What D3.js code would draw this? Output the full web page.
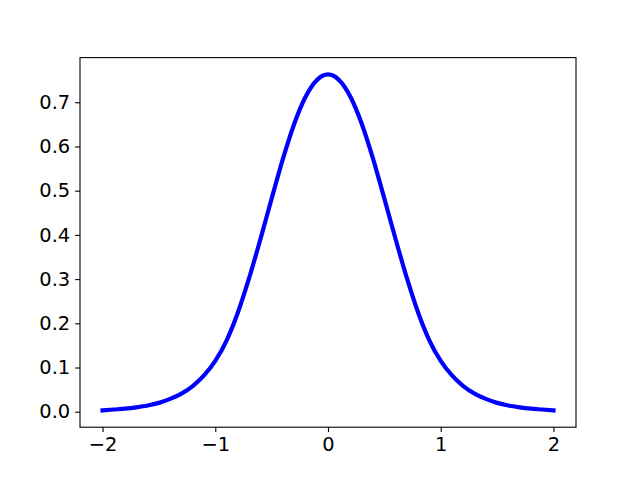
<!DOCTYPE html>
<html>
<head>
    <meta charset="utf-8">
    <title>Bell curve</title>
    <script src="https://cdnjs.cloudflare.com/ajax/libs/d3/7.8.5/d3.min.js"></script>
    <style>
        body { margin: 0; background: #fff; }
        .domain { display: none; }
        .tick line { stroke: #000; stroke-width: 1.1px; }
    </style>
</head>

<body>

<script type="text/javascript">
    // values
    var xValues = [-2.0, -1.9, -1.8, -1.7, -1.6, -1.5, -1.4, -1.3, -1.2, -1.1, -1.0,
                   -0.9, -0.8, -0.7, -0.6, -0.5, -0.4, -0.3, -0.2, -0.1, 0.0,
                   0.1, 0.2, 0.3, 0.4, 0.5, 0.6, 0.7, 0.8, 0.9, 1.0,
                   1.1, 1.2, 1.3, 1.4, 1.5, 1.6, 1.7, 1.8, 1.9, 2.0];
    var yValues = [0.003, 0.005, 0.007, 0.010, 0.014, 0.020, 0.029, 0.041, 0.058, 0.082, 0.115,
                   0.161, 0.224, 0.302, 0.390, 0.482, 0.572, 0.651, 0.712, 0.750, 0.763,
                   0.750, 0.712, 0.651, 0.572, 0.482, 0.390, 0.302, 0.224, 0.161, 0.115,
                   0.082, 0.058, 0.041, 0.029, 0.020, 0.014, 0.010, 0.007, 0.005, 0.003];
    var xTicks = [-2, -1, 0, 1, 2];
    var yTicks = [0.0, 0.1, 0.2, 0.3, 0.4, 0.5, 0.6, 0.7];

    var width = 640, height = 480;
    var plotLeft = 80, plotRight = 576, plotTop = 57.6, plotBottom = 427.2;

    var svg = d3.select("body").append("svg")
            .attr("width", width)
            .attr("height", height);

    var yMin = d3.min(yValues), yMax = d3.max(yValues),
        pad = (yMax - yMin) * 0.05;

    var xScale = d3.scaleLinear()
            .domain([-2.2, 2.2])
            .range([plotLeft, plotRight]),
        yScale = d3.scaleLinear()
            .domain([yMin - pad, yMax + pad])
            .range([plotBottom, plotTop]);

    var line = d3.line()
        .x(function (d, i) { return xScale(xValues[i]); })
        .y(function (d) { return yScale(d); })
        .curve(d3.curveMonotoneX);

    svg.append("path")
        .attr("d", line(yValues))
        .attr("fill", "none")
        .attr("stroke", "#0000ff")
        .attr("stroke-width", 4.2)
        .attr("stroke-linejoin", "round")
        .attr("stroke-linecap", "square");

    var xAxis = d3.axisBottom(xScale)
            .tickValues(xTicks)
            .tickSize(4.9)
            .tickPadding(4.9)
            .tickFormat(function (d) { return d < 0 ? "\u2212" + Math.abs(d) : d; });

    svg.append("g")
        .attr("transform", "translate(0," + plotBottom + ")")
        .call(xAxis)
        .attr("font-family", "DejaVu Sans")
        .attr("font-size", 19.44);

    var yAxis = d3.axisLeft(yScale)
            .tickValues(yTicks)
            .tickSize(4.9)
            .tickPadding(4.9)
            .tickFormat(d3.format(".1f"));

    svg.append("g")
        .attr("transform", "translate(" + plotLeft + ",0)")
        .call(yAxis)
        .attr("font-family", "DejaVu Sans")
        .attr("font-size", 19.44);

    // axes frame
    svg.append("rect")
        .attr("x", plotLeft)
        .attr("y", plotTop)
        .attr("width", plotRight - plotLeft)
        .attr("height", plotBottom - plotTop)
        .attr("fill", "none")
        .attr("stroke", "#000")
        .attr("stroke-width", 1.1);
</script>

</body>

</html>
